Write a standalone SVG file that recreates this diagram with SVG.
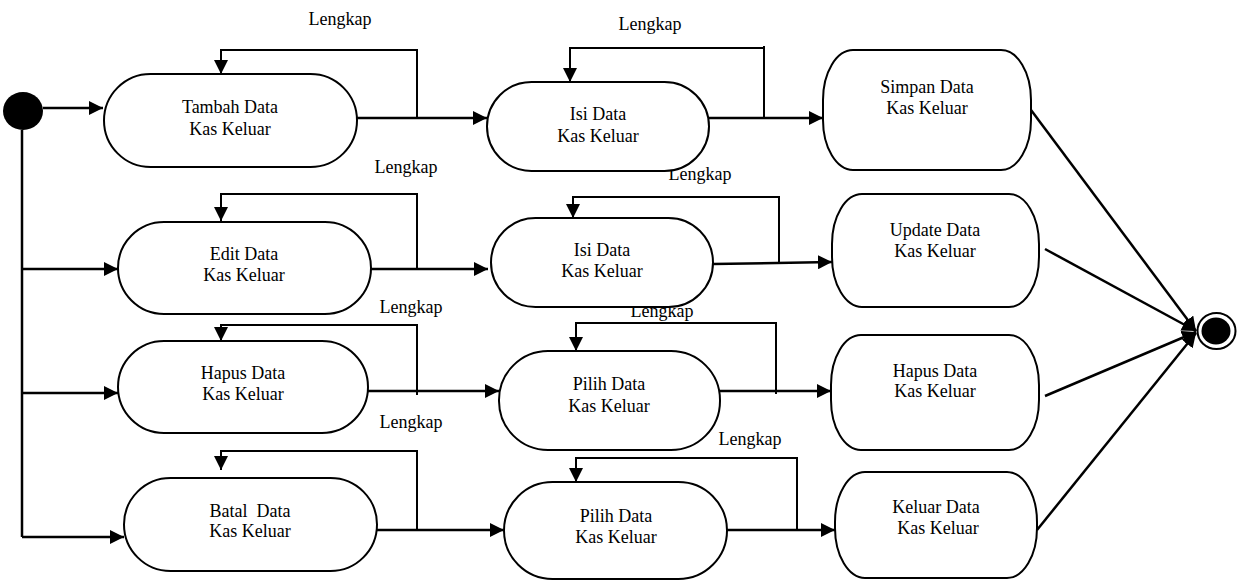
<svg xmlns="http://www.w3.org/2000/svg" width="1248" height="581" viewBox="0 0 1248 581">
<defs>
<marker id="ah" markerUnits="userSpaceOnUse" markerWidth="14" markerHeight="14" refX="14" refY="7" orient="auto" viewBox="0 0 14 14">
<path d="M0,0 L14,7 L0,14 z" fill="#000"/>
</marker>
</defs>
<style>
.n{fill:#fff;stroke:#000;stroke-width:2}
.t{font-family:'Liberation Serif','DejaVu Serif',serif;font-size:18px;fill:#000;text-anchor:middle}
.c{fill:none;stroke:#000;stroke-width:2.5}
.l{fill:none;stroke:#000;stroke-width:2}
</style>
<rect width="1248" height="581" fill="#fff"/>
<g id="connectors">
<path class="c" d="M22,130 V537"/>
<path class="c" d="M43,108 H103" marker-end="url(#ah)"/>
<path class="c" d="M22,269 H118" marker-end="url(#ah)"/>
<path class="c" d="M22,393 H118" marker-end="url(#ah)"/>
<path class="c" d="M22,537 H124" marker-end="url(#ah)"/>
<path class="l" d="M417,118 V50 H221 V74" marker-end="url(#ah)"/>
<path class="c" d="M355,118 H487" marker-end="url(#ah)"/>
<path class="l" d="M764,118 V46 M765,48 H570 V82" marker-end="url(#ah)"/>
<path class="c" d="M709,118 H823" marker-end="url(#ah)"/>
<path class="l" d="M417,269 V194 H221 V221" marker-end="url(#ah)"/>
<path class="c" d="M371,269 H488" marker-end="url(#ah)"/>
<path class="l" d="M779,263 V197 H573 V218" marker-end="url(#ah)"/>
<path class="c" d="M713,264 L832,262" marker-end="url(#ah)"/>
<path class="l" d="M417,395 V325 H221 V341" marker-end="url(#ah)"/>
<path class="c" d="M368,391 H499" marker-end="url(#ah)"/>
<path class="l" d="M776,394 V323 H576 V351" marker-end="url(#ah)"/>
<path class="c" d="M720,391 H831" marker-end="url(#ah)"/>
<path class="l" d="M417,530 V451 H221 V470" marker-end="url(#ah)"/>
<path class="c" d="M377,530 H504" marker-end="url(#ah)"/>
<path class="l" d="M797,530 V458 H576 V482" marker-end="url(#ah)"/>
<path class="c" d="M727,530 H835" marker-end="url(#ah)"/>
<path class="c" d="M1031,110 L1196,331" marker-end="url(#ah)"/>
<path class="c" d="M1045,249 L1196,331" marker-end="url(#ah)"/>
<path class="c" d="M1045,396 L1196,332" marker-end="url(#ah)"/>
<path class="c" d="M1037,530 L1196,333" marker-end="url(#ah)"/>
</g>
<g id="labels">
<text class="t" x="340" y="25">Lengkap</text>
<text class="t" x="650" y="30">Lengkap</text>
<text class="t" x="406" y="173">Lengkap</text>
<text class="t" x="700" y="180">Lengkap</text>
<text class="t" x="411" y="313">Lengkap</text>
<text class="t" x="662" y="317">Lengkap</text>
<text class="t" x="411" y="428">Lengkap</text>
<text class="t" x="750" y="445">Lengkap</text>
</g>
<g id="start"><ellipse cx="23" cy="111" rx="20" ry="19" fill="#000"/></g>
<g id="end">
<ellipse cx="1216.5" cy="331" rx="19" ry="18" fill="#fff" stroke="#000" stroke-width="2"/>
<ellipse cx="1216" cy="331" rx="14.5" ry="13.5" fill="#000"/>
</g>
<g id="tambah"><rect class="n" x="104" y="74" width="253" height="93" rx="46.5"/><text class="t" x="230" y="113">Tambah Data</text><text class="t" x="230" y="135">Kas Keluar</text></g>
<g id="isi1"><rect class="n" x="487" y="82" width="222" height="89" rx="44.5"/><text class="t" x="598" y="120">Isi Data</text><text class="t" x="598" y="142">Kas Keluar</text></g>
<g id="simpan"><rect class="n" x="823" y="50" width="208" height="120" rx="30" ry="50"/><text class="t" x="927" y="93">Simpan Data</text><text class="t" x="927" y="114">Kas Keluar</text></g>
<g id="edit"><rect class="n" x="118" y="222" width="253" height="92" rx="46"/><text class="t" x="244" y="260">Edit Data</text><text class="t" x="244" y="281">Kas Keluar</text></g>
<g id="isi2"><rect class="n" x="491" y="218" width="222" height="89" rx="44.5"/><text class="t" x="602" y="256">Isi Data</text><text class="t" x="602" y="277">Kas Keluar</text></g>
<g id="update"><rect class="n" x="832" y="194" width="207" height="113" rx="30" ry="50"/><text class="t" x="935" y="236">Update Data</text><text class="t" x="935" y="257">Kas Keluar</text></g>
<g id="hapus1"><rect class="n" x="118" y="341" width="250" height="92" rx="46"/><text class="t" x="243" y="379">Hapus Data</text><text class="t" x="243" y="400">Kas Keluar</text></g>
<g id="pilih1"><rect class="n" x="499" y="351" width="221" height="99" rx="49"/><text class="t" x="609" y="390">Pilih Data</text><text class="t" x="609" y="412">Kas Keluar</text></g>
<g id="hapus2"><rect class="n" x="831" y="335" width="208" height="115" rx="30" ry="50"/><text class="t" x="935" y="377">Hapus Data</text><text class="t" x="935" y="397">Kas Keluar</text></g>
<g id="batal"><rect class="n" x="124" y="478" width="253" height="93" rx="46.5"/><text class="t" x="250" y="517" xml:space="preserve">Batal  Data</text><text class="t" x="250" y="537">Kas Keluar</text></g>
<g id="pilih2"><rect class="n" x="504" y="482" width="223" height="97" rx="48.5"/><text class="t" x="616" y="522">Pilih Data</text><text class="t" x="616" y="543">Kas Keluar</text></g>
<g id="keluar"><rect class="n" x="835" y="472" width="202" height="106" rx="30" ry="50"/><text class="t" x="936" y="513">Keluar Data</text><text class="t" x="938" y="534">Kas Keluar</text></g>
</svg>
